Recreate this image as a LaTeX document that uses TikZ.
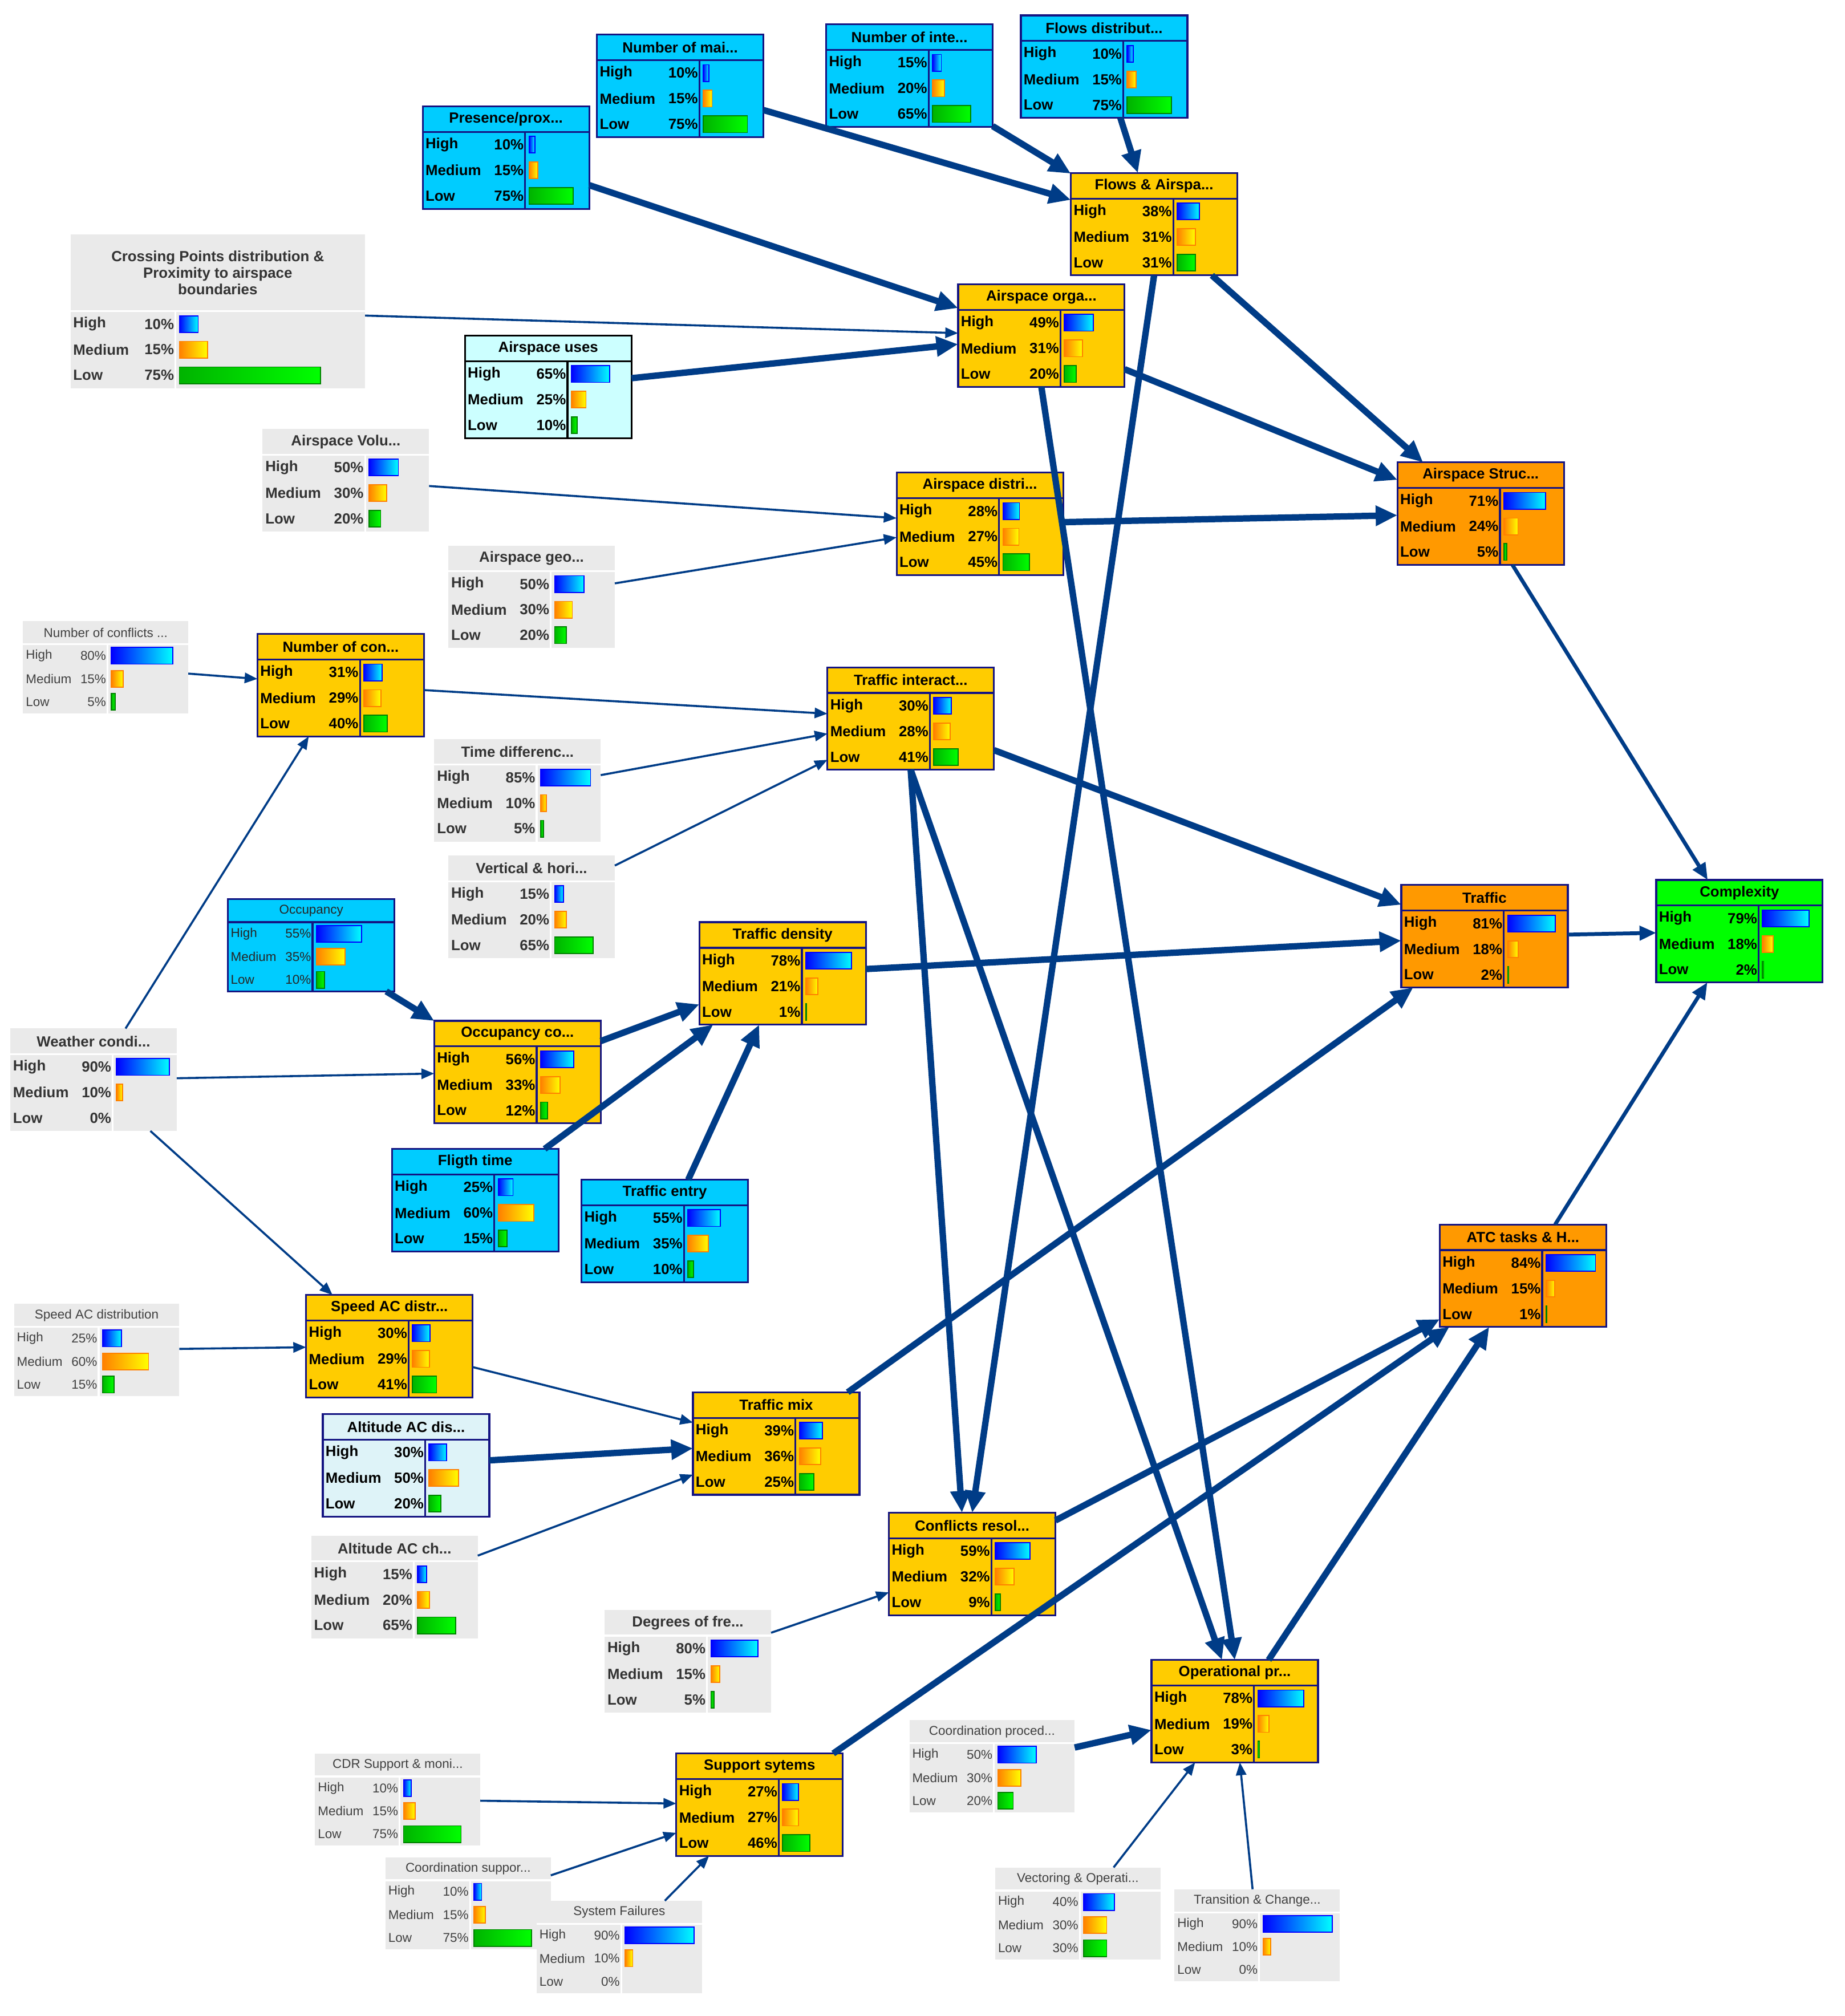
\documentclass[tikz,border=0pt]{standalone}
\usepackage{fontspec}
\setmainfont{Liberation Sans}
\usetikzlibrary{arrows.meta}
\definecolor{cgold}{RGB}{255,204,0}
\definecolor{ccyan}{RGB}{0,204,255}
\definecolor{clcyan}{RGB}{204,255,255}
\definecolor{clcyanb}{RGB}{222,243,248}
\definecolor{corange}{RGB}{255,153,0}
\definecolor{cgreen}{RGB}{0,255,0}
\definecolor{cgray}{RGB}{234,234,234}
\definecolor{cnavy}{RGB}{20,20,130}
\definecolor{cedge}{RGB}{0,60,135}
\newcommand\mset[8]{\def\mfl{#1}\def\mdr{#2}\def\msep{#3}\def\mw{#4}\def\mlw{#5}\def\mbs{#6}\def\mt{#7}\def\mr{#8}}
\newcommand\mtgold{\mset{cgold}{cnavy}{cnavy}{130}{80}{0.46}{20}{20}\def\mfnt{\bfseries\fontsize{11.5}{13}\selectfont}\def\mtc{black}}
\newcommand\mtcyan{\mset{ccyan}{cnavy}{cnavy}{130}{80}{0.46}{20}{20}\def\mfnt{\bfseries\fontsize{11.5}{13}\selectfont}\def\mtc{black}}
\newcommand\mtlcyan{\mset{clcyan}{black}{black}{130}{80}{0.46}{20}{20}\def\mfnt{\bfseries\fontsize{11.5}{13}\selectfont}\def\mtc{black}}
\newcommand\mtlcyanb{\mset{clcyanb}{cnavy}{cnavy}{130}{80}{0.46}{20}{20}\def\mfnt{\bfseries\fontsize{11.5}{13}\selectfont}\def\mtc{black}}
\newcommand\mtorange{\mset{corange}{cnavy}{cnavy}{130}{80}{0.46}{20}{20}\def\mfnt{\bfseries\fontsize{11.5}{13}\selectfont}\def\mtc{black}}
\newcommand\mtgreen{\mset{cgreen}{cnavy}{cnavy}{130}{80}{0.46}{20}{20}\def\mfnt{\bfseries\fontsize{11.5}{13}\selectfont}\def\mtc{black}}
\newcommand\mtgrayb{\mset{cgray}{none}{white}{130}{80}{0.46}{20}{20}\def\mfnt{\bfseries\fontsize{11.5}{13}\selectfont}\def\mtc{black!80}}
\newcommand\mtcross{\mset{cgray}{none}{white}{230}{82}{1.47}{60}{20}\def\mfnt{\bfseries\fontsize{11.5}{13}\selectfont}\def\mtc{black!80}}
\newcommand\mtgrays{\mset{cgray}{none}{white}{129}{66}{0.6}{18}{18}\def\mfnt{\fontsize{10}{12}\selectfont}\def\mtc{black!75}}
\newcommand\mtcyans{\mset{ccyan}{cnavy}{cnavy}{130}{66}{0.64}{18}{18}\def\mfnt{\fontsize{10}{12}\selectfont}\def\mtc{black!85}}
\newcommand\bn[8]{%
  \csname mt#4\endcsname
  \pgfmathsetmacro\mH{\mt+3*\mr}%
  \node[draw=\mdr, fill=\mfl, line width=1.4pt, minimum width=\mw pt, minimum height=\mH pt, anchor=north west, inner sep=0pt, outer sep=0pt] (#1) at (#2,#3) {};
  \draw[\msep, line width=1.4pt] (#2,#3+\mt) -- (#2+\mw,#3+\mt);
  \draw[\msep, line width=1.4pt] (#2+\mlw,#3+\mt) -- (#2+\mlw,#3+\mH);
  \node[text=\mtc, font=\mfnt, align=center, inner sep=0pt] (#1-t) at (#2+\mw/2,#3+\mt/2) {#5};
  \node[text=\mtc, font=\mfnt, anchor=west, inner sep=0pt] (#1-l1) at (#2+2,#3+\mt+0.5*\mr) {High};
  \node[text=\mtc, font=\mfnt, anchor=west, inner sep=0pt] (#1-l2) at (#2+2,#3+\mt+1.5*\mr) {Medium};
  \node[text=\mtc, font=\mfnt, anchor=west, inner sep=0pt] (#1-l3) at (#2+2,#3+\mt+2.5*\mr) {Low};
  \node[text=\mtc, font=\mfnt, anchor=east, inner sep=0pt] (#1-p1) at (#2+\mlw-1,#3+\mt+0.5*\mr) {#6\%};
  \node[text=\mtc, font=\mfnt, anchor=east, inner sep=0pt] (#1-p2) at (#2+\mlw-1,#3+\mt+1.5*\mr) {#7\%};
  \node[text=\mtc, font=\mfnt, anchor=east, inner sep=0pt] (#1-p3) at (#2+\mlw-1,#3+\mt+2.5*\mr) {#8\%};
  \pgfmathsetmacro\mba{max(#6*\mbs,2)}\pgfmathsetmacro\mbb{max(#7*\mbs,2)}\pgfmathsetmacro\mbc{#8*\mbs}%
  \draw[draw=blue, line width=0.8pt, left color=blue, right color=cyan] (#2+\mlw+3,#3+\mt+0.5*\mr-6.5) rectangle ++(\mba,13);
  \draw[draw=orange, line width=0.8pt, left color=orange, right color=yellow] (#2+\mlw+3,#3+\mt+1.5*\mr-6.5) rectangle ++(\mbb,13);
  \ifdim #8pt>0pt
  \draw[draw=green!50!black, line width=0.8pt, left color=green!70!black, right color=green] (#2+\mlw+3,#3+\mt+2.5*\mr-6.5) rectangle ++(\mbc,13);
  \fi
}
\tikzset{
  ea/.style={draw=cedge, line width=5pt, -{Triangle[length=17pt,width=15pt]}},
  eb/.style={draw=cedge, line width=3pt, -{Triangle[length=13pt,width=11pt]}},
  ec/.style={draw=cedge, line width=1.6pt, -{Triangle[length=10pt,width=8pt]}}
}
\begin{document}
\begin{tikzpicture}[x=1pt,y=-1pt]
\useasboundingbox (0,0) rectangle (1440,1574);
\fill[white] (0,0) rectangle (1440,1574);
% edges first (under nodes) -> use coordinates of nodes defined later: so define nodes first in a layer approach
\begin{scope}
\bn{nmai}{466}{27}{cyan}{Number of mai...}{10}{15}{75}
\bn{nint}{645}{19}{cyan}{Number of inte...}{15}{20}{65}
\bn{fdist}{797}{12}{cyan}{Flows distribut...}{10}{15}{75}
\bn{pres}{330}{83}{cyan}{Presence/prox...}{10}{15}{75}
\bn{fa}{836}{135}{gold}{Flows \& Airspa...}{38}{31}{31}
\bn{cross}{55}{183}{cross}{Crossing Points distribution \&\\Proximity to airspace\\boundaries}{10}{15}{75}
\bn{ao}{748}{222}{gold}{Airspace orga...}{49}{31}{20}
\bn{au}{363}{262}{lcyan}{Airspace uses}{65}{25}{10}
\bn{avol}{205}{335}{grayb}{Airspace Volu...}{50}{30}{20}
\bn{adis}{700}{369}{gold}{Airspace distri...}{28}{27}{45}
\bn{astr}{1091}{361}{orange}{Airspace Struc...}{71}{24}{5}
\bn{ageo}{350}{426}{grayb}{Airspace geo...}{50}{30}{20}
\bn{ncs}{18}{485}{grays}{Number of conflicts ...}{80}{15}{5}
\bn{ncon}{201}{495}{gold}{Number of con...}{31}{29}{40}
\bn{ti}{646}{521}{gold}{Traffic interact...}{30}{28}{41}
\bn{td}{339}{577}{grayb}{Time differenc...}{85}{10}{5}
\bn{vh}{350}{668}{grayb}{Vertical \& hori...}{15}{20}{65}
\bn{occ}{178}{702}{cyans}{Occupancy}{55}{35}{10}
\bn{tdens}{546}{720}{gold}{Traffic density}{78}{21}{1}
\bn{traf}{1094}{691}{orange}{Traffic}{81}{18}{2}
\bn{cx}{1293}{687}{green}{Complexity}{79}{18}{2}
\bn{wc}{8}{803}{grayb}{Weather condi...}{90}{10}{0}
\bn{oc}{339}{797}{gold}{Occupancy co...}{56}{33}{12}
\bn{ft}{306}{897}{cyan}{Fligth time}{25}{60}{15}
\bn{te}{454}{921}{cyan}{Traffic entry}{55}{35}{10}
\bn{atc}{1124}{956}{orange}{ATC tasks \& H...}{84}{15}{1}
\bn{sad}{11}{1018}{grays}{Speed AC distribution}{25}{60}{15}
\bn{sac}{239}{1011}{gold}{Speed AC distr...}{30}{29}{41}
\bn{tm}{541}{1087}{gold}{Traffic mix}{39}{36}{25}
\bn{aad}{252}{1104}{lcyanb}{Altitude AC dis...}{30}{50}{20}
\bn{cr}{694}{1181}{gold}{Conflicts resol...}{59}{32}{9}
\bn{ach}{243}{1199}{grayb}{Altitude AC ch...}{15}{20}{65}
\bn{dof}{472}{1257}{grayb}{Degrees of fre...}{80}{15}{5}
\bn{op}{899}{1296}{gold}{Operational pr...}{78}{19}{3}
\bn{cp}{710}{1343}{grays}{Coordination proced...}{50}{30}{20}
\bn{cdr}{246}{1369}{grays}{CDR Support \& moni...}{10}{15}{75}
\bn{ss}{528}{1369}{gold}{Support sytems}{27}{27}{46}
\bn{cs}{301}{1450}{grays}{Coordination suppor...}{10}{15}{75}
\bn{sf}{419}{1484}{grays}{System Failures}{90}{10}{0}
\bn{vo}{777}{1458}{grays}{Vectoring \& Operati...}{40}{30}{30}
\bn{tc}{917}{1475}{grays}{Transition \& Change...}{90}{10}{0}
\end{scope}
% edges
\draw[ea] (nmai) -- (fa);
\draw[ea] (nint) -- (fa);
\draw[ea] (fdist) -- (fa);
\draw[ea] (pres) -- (ao);
\draw[ec] (cross) -- (ao);
\draw[ea] (au) -- (ao);
\draw[ea] (fa) -- (astr);
\draw[ea] (fa.south) -- (cr.north);
\draw[ea] (ao) -- (astr);
\draw[ea] (ao.south) -- (op.north);
\draw[ec] (avol) -- (adis);
\draw[ec] (ageo) -- (adis);
\draw[ea] (adis) -- (astr);
\draw[eb] (astr) -- (cx);
\draw[ec] (ncs) -- (ncon);
\draw[ec] (wc) -- (ncon);
\draw[ec] (ncon) -- (ti);
\draw[ec] (td) -- (ti);
\draw[ec] (vh) -- (ti);
\draw[ea] (ti) -- (traf);
\draw[ea] (ti.south) -- ([xshift=-8pt]cr.north);
\draw[ea] (ti.south) -- ([xshift=-10pt]op.north);
\draw[eb] (traf) -- (cx);
\draw[ea] (occ) -- (oc);
\draw[ec] (wc) -- (oc);
\draw[ec] (wc) -- (sac);
\draw[ea] (oc) -- (tdens);
\draw[ea] (ft) -- (tdens);
\draw[ea] (te) -- (tdens);
\draw[ea] (tdens) -- (traf);
\draw[eb] (atc) -- (cx);
\draw[ec] (sad) -- (sac);
\draw[ec] (sac) -- (tm);
\draw[ea] (aad) -- (tm);
\draw[ec] (ach) -- (tm);
\draw[ea] (tm) -- (traf);
\draw[ea] (cr) -- (atc);
\draw[ec] (dof) -- (cr);
\draw[ea] (op) -- (atc);
\draw[ea] (cp) -- (op);
\draw[ea] (ss) -- (atc);
\draw[ec] (cdr) -- (ss);
\draw[ec] (cs) -- (ss);
\draw[ec] (sf) -- (ss);
\draw[ec] (vo) -- (op);
\draw[ec] (tc) -- (op);
\end{tikzpicture}
\end{document}
